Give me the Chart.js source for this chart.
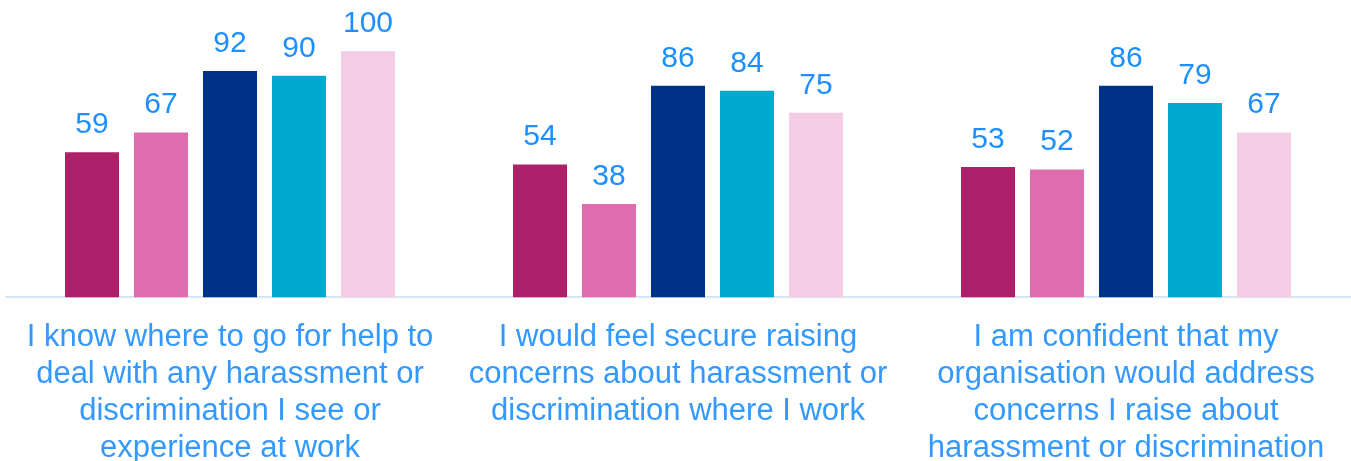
<!DOCTYPE html>
<html>
<head>
<meta charset="utf-8">
<script src="https://cdn.jsdelivr.net/npm/chart.js@4/dist/chart.umd.min.js"></script>
<style>
  html, body { margin: 0; padding: 0; background: #fff; }
  #wrap { position: relative; width: 1351px; height: 461px; }
</style>
</head>
<body>
<div id="wrap"><canvas id="chart"></canvas></div>
<script>
// categories (x axis labels, one array of lines per group)
const categories = [
  ['I know where to go for help to', 'deal with any harassment or', 'discrimination I see or', 'experience at work'],
  ['I would feel secure raising', 'concerns about harassment or', 'discrimination where I work'],
  ['I am confident that my', 'organisation would address', 'concerns I raise about', 'harassment or discrimination']
];

// series values (percent)
const series1 = [59, 54, 53];
const series2 = [67, 38, 52];
const series3 = [92, 86, 86];
const series4 = [90, 84, 79];
const series5 = [100, 75, 67];

const seriesNames = ['Series 1', 'Series 2', 'Series 3', 'Series 4', 'Series 5'];
const seriesColors = ['#AC2169', '#DF6CAC', '#003087', '#00AACF', '#F4CDE4'];

// 막대 위에 값 표시
const valueLabels = {
  id: 'valueLabels',
  afterDatasetsDraw(chart) {
    const ctx = chart.ctx;
    ctx.save();
    ctx.font = '30px "Liberation Sans", Arial, sans-serif';
    ctx.fillStyle = '#1E8FFF';
    ctx.textAlign = 'center';
    ctx.textBaseline = 'alphabetic';
    chart.data.datasets.forEach((ds, i) => {
      chart.getDatasetMeta(i).data.forEach((bar, j) => {
        ctx.fillText(String(ds.data[j]), bar.x, bar.y - 19);
      });
    });
    ctx.restore();
  }
};

const allSeries = [series1, series2, series3, series4, series5];

new Chart(document.getElementById('chart').getContext('2d'), {
  type: 'bar',
  data: {
    labels: categories,
    datasets: allSeries.map((values, i) => ({
      label: seriesNames[i],
      data: values,
      backgroundColor: seriesColors[i],
      categoryPercentage: 0.77,
      barPercentage: 0.783
    }))
  },
  options: {
    responsive: true,
    maintainAspectRatio: false,
    animation: false,
    layout: { padding: { left: 6, right: 1, top: 2, bottom: -28 } },
    plugins: {
      legend: { display: false },
      tooltip: { enabled: false }
    },
    scales: {
      y: {
        display: false,
        min: 0,
        max: 120
      },
      x: {
        grid: { display: false, drawTicks: false },
        border: { display: true, color: '#D5E6F7', width: 2 },
        ticks: {
          autoSkip: false,
          maxRotation: 0,
          minRotation: 0,
          padding: 22,
          color: '#3399FF',
          font: { family: '"Liberation Sans", Arial, sans-serif', size: 31, lineHeight: 1.19 }
        }
      }
    }
  },
  plugins: [valueLabels]
});
</script>
</body>
</html>
